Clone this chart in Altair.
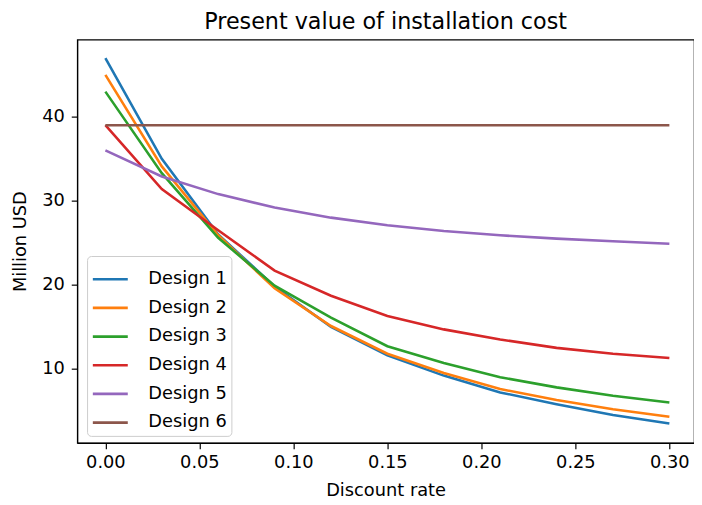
import altair as alt
import pandas as pd

rates = [0.00, 0.03, 0.06, 0.09, 0.12, 0.15, 0.18, 0.21, 0.24, 0.27, 0.30]
design1 = [47.0, 35.0, 26.0, 19.8, 15.0, 11.6, 9.2, 7.2, 5.8, 4.5, 3.5]
design2 = [45.0, 34.1, 25.9, 19.6, 15.1, 11.8, 9.5, 7.6, 6.3, 5.2, 4.3]
design3 = [43.0, 33.3, 25.6, 19.9, 16.1, 12.7, 10.7, 9.0, 7.8, 6.8, 6.0]
design4 = [39.0, 31.4, 26.5, 21.7, 18.7, 16.3, 14.7, 13.5, 12.5, 11.8, 11.3]
design5 = [36.0, 32.9, 30.8, 29.2, 28.0, 27.1, 26.4, 25.9, 25.5, 25.2, 24.9]
design6 = [39.0, 39.0, 39.0, 39.0, 39.0, 39.0, 39.0, 39.0, 39.0, 39.0, 39.0]

names = ["Design 1", "Design 2", "Design 3", "Design 4", "Design 5", "Design 6"]
series = [design1, design2, design3, design4, design5, design6]
colors = ["#1f77b4", "#ff7f0e", "#2ca02c", "#d62728", "#9467bd", "#8c564b"]

x_ticks = [0.0, 0.05, 0.10, 0.15, 0.20, 0.25, 0.30]
y_ticks = [10, 20, 30, 40]

rows = []
for name, vals in zip(names, series):
    for r, v in zip(rates, vals):
        rows.append({"rate": r, "value": v, "design": name})
df = pd.DataFrame(rows)

FONT = "DejaVu Sans"

chart = alt.Chart(df).mark_line(strokeWidth=2.6, clip=True).encode(
    x=alt.X("rate:Q",
            scale=alt.Scale(domain=[-0.015, 0.3131], nice=False, zero=False),
            axis=alt.Axis(title="Discount rate", values=x_ticks, format=".2f",
                          grid=False, tickSize=6, labelPadding=5, titlePadding=10)),
    y=alt.Y("value:Q",
            scale=alt.Scale(domain=[1.2, 49.2], nice=False, zero=False),
            axis=alt.Axis(title="Million USD", values=y_ticks, format="d",
                          grid=False, tickSize=6, labelPadding=7, titlePadding=12)),
    color=alt.Color("design:N",
                    scale=alt.Scale(domain=names, range=colors),
                    legend=alt.Legend(title=None, orient="none", legendX=10, legendY=219)),
).properties(
    width=624,
    height=408,
    title=alt.TitleParams("Present value of installation cost", fontSize=22.5,
                          font=FONT, fontWeight="normal", color="black",
                          anchor="middle", offset=6),
    autosize=alt.AutoSizeParams(type="none"),
    padding={"left": 70, "top": 29, "right": 0, "bottom": 58},
).configure_view(
    stroke="black", strokeWidth=1.2
).configure_axis(
    domainColor="black", domainWidth=1.2, tickColor="black", tickWidth=1.2,
    labelColor="black", titleColor="black", labelFont=FONT, titleFont=FONT,
    labelFontSize=18, titleFontSize=18, titleFontWeight="normal",
).configure_legend(
    labelFont=FONT, labelFontSize=18, labelColor="black",
    symbolType="stroke", symbolSize=1250, symbolStrokeWidth=2.7, symbolOpacity=1,
    labelOffset=19, padding=4, rowPadding=0,
    strokeColor="#cccccc", fillColor="rgba(255,255,255,0.8)", cornerRadius=4,
)

chart.save("out.html", embed_options={"renderer": "svg", "actions": False})
